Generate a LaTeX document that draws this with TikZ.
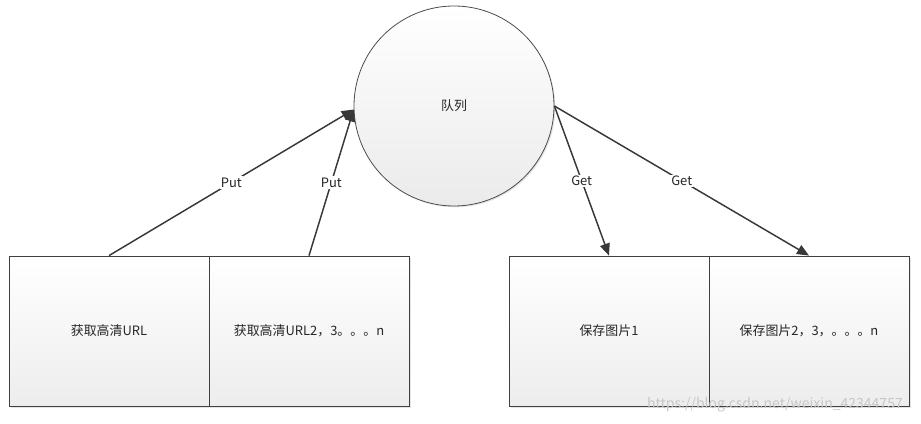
\documentclass[tikz,border=0pt]{standalone}
\usepackage{fontspec}
\setmainfont{Noto Sans CJK SC}
\usetikzlibrary{arrows.meta,shadows}

\begin{document}
\begin{tikzpicture}[x=0.75pt,y=0.75pt,yscale=-1,xscale=1,
  every node/.style={font=\fontsize{9.7}{11}\selectfont, text=black!85},
  taskbox/.style={draw=black!75, line width=0.6pt, rectangle, minimum width=150pt, minimum height=112.5pt, inner sep=0pt,
    top color=white, bottom color=black!7, drop shadow={shadow xshift=1.8pt, shadow yshift=-1.8pt, fill=black!10, opacity=1}},
  queuenode/.style={draw=black!70, line width=0.6pt, circle, minimum size=150pt, inner sep=0pt,
    top color=white, bottom color=black!8, drop shadow={shadow xshift=1pt, shadow yshift=-1pt, fill=black!10, opacity=1}},
  flow/.style={draw=black!78, line width=1.1pt, -{Triangle[length=9pt, width=7.5pt]}},
  flowlabel/.style={fill=white, inner sep=1pt}]
\useasboundingbox (0,0) rectangle (921,424);

% queue in the middle
\node[queuenode] (q) at (454,106) {队列};

% producers
\node[taskbox] (fetch1) at (109,331) {获取高清URL};
\node[taskbox] (fetchn) at (309,331) {获取高清URL2，3。。。n};

% consumers
\node[taskbox] (save1) at (609,331) {保存图片1};
\node[taskbox] (saven) at (809,331) {保存图片2，3，。。。n};

% put / get
\draw[flow] (fetch1.north) -- node[flowlabel] {Put} (q.182);
\draw[flow] (fetchn.north) -- node[flowlabel] {Put} (q.182);
\draw[flow] (q.east) -- node[flowlabel] {Get} (save1.north);
\draw[flow] (q.east) -- node[flowlabel] {Get} (saven.north);

% watermark
\node[text=black!22, font=\fontsize{10.5}{12}\selectfont] (mark) at (775,405) {https://blog.csdn.net/weixin\_42344757};
\end{tikzpicture}
\end{document}
